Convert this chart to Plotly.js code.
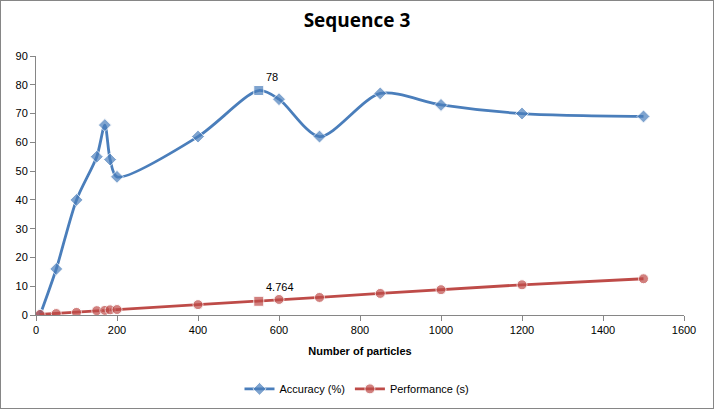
<!DOCTYPE html>
<html>
<head>
<meta charset="utf-8">
<script src="https://cdn.plot.ly/plotly-3.0.1.min.js"></script>
<style>
  html, body { margin: 0; padding: 0; background: #fff; }
  #myPlot { width: 712px; height: 407px; border: 1px solid #868686; }
</style>
</head>
<body>
<div id="myPlot"></div>
<script>
// number of particles
let particles = [10, 50, 100, 150, 170, 183, 200, 400, 550, 600, 700, 850, 1000, 1200, 1500];
let accuracy = [0, 16, 40, 55, 66, 54, 48, 62, 78, 75, 62, 77, 73, 70, 69];
let performance = [0.2, 0.5, 0.9, 1.5, 1.6, 1.8, 1.9, 3.6, 4.764, 5.4, 6.1, 7.5, 8.8, 10.5, 12.6];
let highlight = 8; // point at 550 gets a label

let blue = '#4a7ebb';
let red = '#be4b48';

let accSymbols = particles.map((p, i) => i == highlight ? 'square' : 'diamond');
let perfSymbols = particles.map((p, i) => i == highlight ? 'square' : 'circle');
let accSizes = particles.map((p, i) => i == highlight ? 10 : 10);
let perfSizes = particles.map((p, i) => i == highlight ? 10 : 10);
let accText = accuracy.map((v, i) => i == highlight ? String(v) : '');
let perfText = performance.map((v, i) => i == highlight ? String(v) : '');

var trace1 = {
  x: particles,
  y: accuracy,
  name: 'Accuracy (%)',
  type: 'scatter',
  mode: 'lines+markers+text',
  text: accText,
  textposition: 'top right',
  textfont: { family: 'Liberation Sans, Arial', size: 11, color: '#000' },
  line: { color: blue, width: 2.8, shape: 'spline', smoothing: 0.8 },
  marker: { color: blue, symbol: accSymbols, size: accSizes }
};
var trace2 = {
  x: particles,
  y: performance,
  name: 'Performance (s)',
  type: 'scatter',
  mode: 'lines+markers+text',
  text: perfText,
  textposition: 'top right',
  textfont: { family: 'Liberation Sans, Arial', size: 11, color: '#000' },
  line: { color: red, width: 2.8 },
  marker: { color: red, symbol: perfSymbols, size: perfSizes }
};

var data = [trace1, trace2];
var layout = {
  width: 712,
  height: 407,
  margin: { l: 35, r: 29, t: 55, b: 93 },
  paper_bgcolor: '#fff',
  plot_bgcolor: '#fff',
  font: { family: 'Liberation Sans, Arial', size: 11, color: '#000' },
  title: {
    text: '<b>Sequence 3</b>',
    font: { family: 'Open Sans, sans-serif', size: 19, color: '#000' },
    x: 0.5,
    xanchor: 'center',
    y: 0.97,
    yanchor: 'top'
  },
  xaxis: {
    range: [0, 1600],
    dtick: 200,
    tick0: 0,
    showgrid: false,
    zeroline: false,
    showline: true,
    linecolor: '#868686',
    linewidth: 1,
    ticks: 'outside',
    ticklen: 5,
    tickcolor: '#868686',
    tickfont: { size: 11 },
    automargin: false,
    title: {
      text: '<b>Number of particles</b>',
      font: { family: 'Liberation Sans, Arial', size: 11, color: '#000' },
      standoff: 12
    }
  },
  yaxis: {
    range: [0, 90],
    dtick: 10,
    showgrid: false,
    zeroline: false,
    showline: true,
    linecolor: '#868686',
    linewidth: 1,
    ticks: 'outside',
    ticklen: 5,
    tickcolor: '#868686',
    tickfont: { size: 11 },
    automargin: false
  },
  showlegend: true,
  legend: {
    orientation: 'h',
    x: 0.5,
    xanchor: 'center',
    xref: 'container',
    y: 0.047,
    yanchor: 'middle',
    yref: 'container',
    font: { size: 11 }
  }
};

Plotly.newPlot("myPlot", data, layout, { staticPlot: true });
</script>
</body>
</html>
